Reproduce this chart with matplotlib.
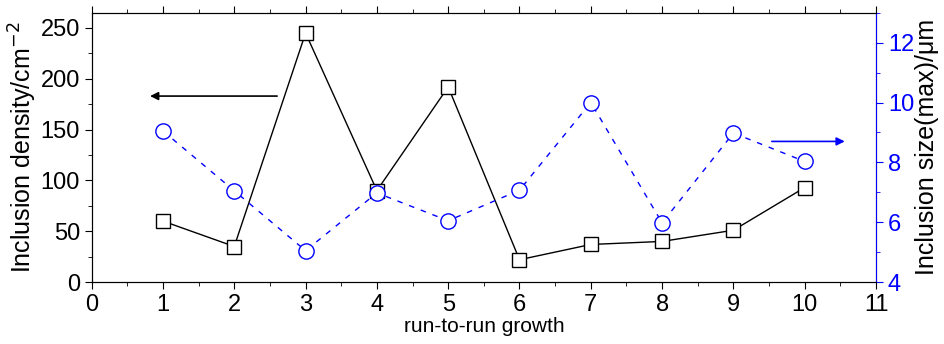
import matplotlib.pyplot as plt
from matplotlib.ticker import MultipleLocator
from matplotlib import font_manager

names = set(f.name for f in font_manager.fontManager.ttflist)
narrow = 'Liberation Sans Narrow' if 'Liberation Sans Narrow' in names else 'Liberation Sans'
plt.rcParams['font.family'] = [narrow, 'DejaVu Sans']

# data
runs = [1, 2, 3, 4, 5, 6, 7, 8, 9, 10]
density = [60, 35, 245, 90, 192, 22, 37, 40, 51, 93]
size_max = [9.05, 7.05, 5.05, 6.98, 6.05, 7.07, 10.0, 5.98, 8.98, 8.03]

fig = plt.figure(figsize=(9.45, 3.44), dpi=100)
ax = fig.add_axes([0.097, 0.180, 0.830, 0.783])

ax.plot(runs, density, color='black', lw=1, marker='s', markersize=10,
        markerfacecolor='white', markeredgecolor='black', markeredgewidth=1)
ax.set_xlim(0, 11)
ax.set_ylim(0, 265)
ax.xaxis.set_major_locator(MultipleLocator(1))
ax.xaxis.set_minor_locator(MultipleLocator(0.5))
ax.yaxis.set_major_locator(MultipleLocator(50))
ax.yaxis.set_minor_locator(MultipleLocator(25))
ax.tick_params(axis='both', which='major', labelsize=17, length=5, direction='out')
ax.tick_params(axis='both', which='minor', length=3, direction='out')
ax.tick_params(axis='x', which='both', top=True)
ax.set_xlabel('run-to-run growth', fontsize=15, labelpad=1)
ax.set_ylabel('Inclusion density/cm$^{-2}$', fontsize=18, labelpad=1)

# left arrow points to density axis
ax.annotate('', xy=(0.78, 183), xytext=(2.64, 183),
            arrowprops=dict(arrowstyle='-|>', color='black', lw=1.2, mutation_scale=12))

ax2 = ax.twinx()
ax2.plot(runs, size_max, color='blue', lw=1, linestyle=(0, (4, 5)), marker='o',
         markersize=11, markerfacecolor='white', markeredgecolor='blue', markeredgewidth=1)
ax2.set_ylim(4, 13)
ax2.yaxis.set_major_locator(MultipleLocator(2))
ax2.yaxis.set_minor_locator(MultipleLocator(1))
ax2.tick_params(axis='y', which='major', labelsize=17, length=5, colors='blue')
ax2.tick_params(axis='y', which='minor', length=3, colors='blue')
ax2.spines['right'].set_color('blue')
ax2.set_ylabel('Inclusion size(max)/μm', fontsize=18, color='black', labelpad=1)

# right arrow points to size axis
ax2.annotate('', xy=(10.6, 8.7), xytext=(9.5, 8.7),
             arrowprops=dict(arrowstyle='-|>', color='blue', lw=1.2, mutation_scale=12))

fig.savefig('out.png', dpi=100)
